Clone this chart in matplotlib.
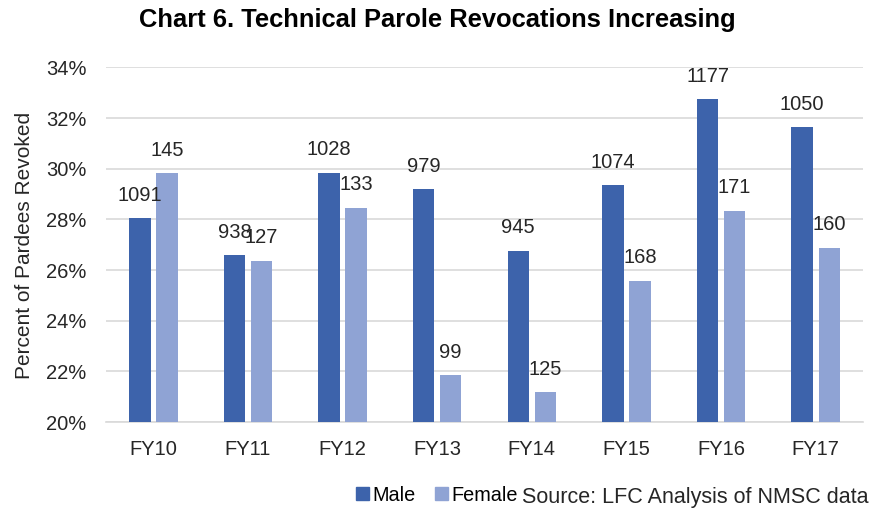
import matplotlib
matplotlib.use('Agg')
import matplotlib.pyplot as plt
import numpy as np
from matplotlib.patches import Patch

plt.rcParams['font.family'] = ['Liberation Sans', 'DejaVu Sans']

years = ['FY10', 'FY11', 'FY12', 'FY13', 'FY14', 'FY15', 'FY16', 'FY17']
male_pct = [28.04, 26.59, 29.84, 29.19, 26.76, 29.34, 32.75, 31.63]
female_pct = [29.82, 26.36, 28.46, 21.85, 21.17, 25.57, 28.34, 26.89]
male_n = [1091, 938, 1028, 979, 945, 1074, 1177, 1050]
female_n = [145, 127, 133, 99, 125, 168, 171, 160]

male_color = '#3d63ab'
female_color = '#8fa3d4'
text_color = '#262626'

fig = plt.figure(figsize=(8.87, 5.11), dpi=100)
ax = fig.add_axes([0.1195, 0.174, 0.8535, 0.694])

x = np.arange(len(years))
w = 0.227
off = 0.143
ax.bar(x - off, [v - 20 for v in male_pct], w, bottom=20, color=male_color, zorder=3)
ax.bar(x + off, [v - 20 for v in female_pct], w, bottom=20, color=female_color, zorder=3)

# count labels above bars
for xi, v, n in zip(x - off, male_pct, male_n):
    ax.annotate(str(n), (xi, v), xytext=(0, 23), textcoords='offset pixels',
                ha='center', va='center', fontsize=14.5, color=text_color)
for xi, v, n in zip(x + off, female_pct, female_n):
    ax.annotate(str(n), (xi, v), xytext=(0, 23), textcoords='offset pixels',
                ha='center', va='center', fontsize=14.5, color=text_color)

ax.set_xlim(-0.5, len(years) - 0.5)
ax.set_ylim(20, 34)
ax.set_yticks(np.arange(20, 35, 2))
ax.set_yticklabels([f'{t}%' for t in range(20, 35, 2)])
ax.set_xticks(x)
ax.set_xticklabels(years)
ax.tick_params(axis='both', length=0, labelsize=14.5, colors=text_color)
ax.tick_params(axis='x', pad=13)
ax.tick_params(axis='y', pad=14)
ax.grid(axis='y', color='#d9d9d9', lw=1.2, zorder=0)
ax.set_axisbelow(True)
for s in ['top', 'right', 'left']:
    ax.spines[s].set_visible(False)
ax.spines['bottom'].set_color('#d9d9d9')
ax.spines['bottom'].set_linewidth(1.2)

fig.text(0.028, 0.52, 'Percent of Pardees Revoked', rotation=90, ha='center',
         va='center', fontsize=15, color=text_color)

fig.text(0.493, 0.961, 'Chart 6. Technical Parole Revocations Increasing',
         ha='center', va='center', fontsize=18.4, fontweight='bold', color='#000000')

handles = [Patch(color=male_color, label='Male'), Patch(color=female_color, label='Female')]
fig.legend(handles=handles, loc='center left', bbox_to_anchor=(0.401, 0.031), ncol=2,
           frameon=False, fontsize=14.3, handlelength=0.67, handleheight=0.67,
           handletextpad=0.15, columnspacing=1.0, borderpad=0, borderaxespad=0)
fig.text(0.7835, 0.027, 'Source: LFC Analysis of NMSC data', ha='center', va='center',
         fontsize=15.5, color=text_color)

fig.savefig('out.png', dpi=100)
